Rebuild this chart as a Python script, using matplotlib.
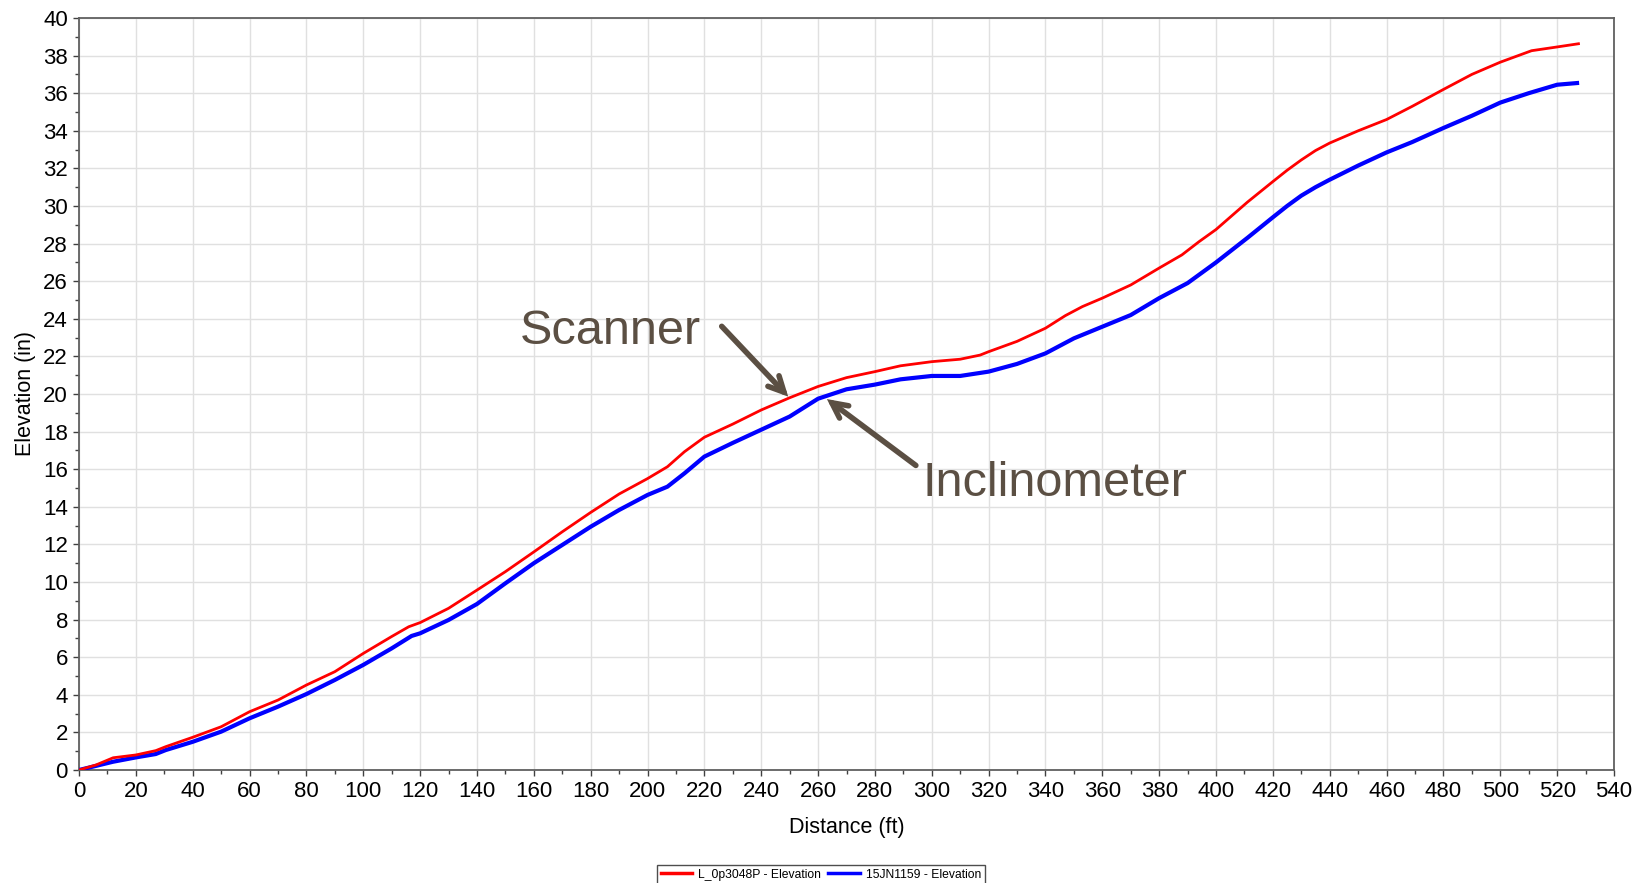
import matplotlib
matplotlib.use("Agg")
import matplotlib.pyplot as plt
from matplotlib.ticker import MultipleLocator

plt.rcParams['font.family'] = ['Liberation Sans', 'DejaVu Sans']

red_x = [0, 6, 12, 20, 27, 30.5, 40, 50, 60, 70, 80, 90, 100, 110, 116, 120, 130, 140,
         150, 160, 170, 180, 190, 200, 207, 213, 220, 230, 240, 250, 260, 270, 280, 289,
         300, 310, 317, 320, 330, 340, 347, 353, 360, 370, 380, 388, 394, 400, 411, 420,
         425, 430, 435, 440, 450, 460, 469, 480, 490, 500, 511, 520, 527.5]
red_y = [0, 0.27, 0.65, 0.8, 1.03, 1.24, 1.74, 2.3, 3.1, 3.72, 4.52, 5.23, 6.2, 7.1, 7.62,
         7.84, 8.6, 9.57, 10.55, 11.6, 12.67, 13.7, 14.68, 15.5, 16.13, 16.93, 17.7, 18.4,
         19.15, 19.8, 20.4, 20.87, 21.19, 21.5, 21.72, 21.85, 22.07, 22.25, 22.8, 23.5,
         24.17, 24.65, 25.1, 25.8, 26.7, 27.4, 28.1, 28.75, 30.2, 31.3, 31.9, 32.45,
         32.95, 33.35, 34.0, 34.6, 35.3, 36.2, 37.0, 37.65, 38.26, 38.46, 38.63]

blue_x = [0, 12, 20, 27, 30.5, 40, 50, 60, 70, 80, 90, 100, 110, 117, 120, 130, 140, 150,
          160, 170, 180, 190, 200, 207, 213, 220, 230, 240, 250, 260, 270, 280, 289, 300,
          310, 320, 330, 340, 350, 360, 370, 380, 390, 400, 411, 420, 425, 430, 435, 440,
          450, 460, 469, 480, 490, 500, 510, 520, 527]
blue_y = [0, 0.44, 0.67, 0.85, 1.06, 1.5, 2.04, 2.75, 3.37, 4.04, 4.79, 5.59, 6.47, 7.13,
          7.27, 7.98, 8.83, 9.93, 11.0, 11.97, 12.94, 13.83, 14.63, 15.07, 15.78, 16.67,
          17.4, 18.1, 18.8, 19.75, 20.25, 20.5, 20.78, 20.96, 20.96, 21.19, 21.6, 22.16,
          22.96, 23.58, 24.2, 25.1, 25.9, 27.0, 28.3, 29.4, 30.0, 30.55, 31.0, 31.4, 32.15,
          32.85, 33.4, 34.15, 34.8, 35.5, 36.0, 36.45, 36.54]

red_label = "L_0p3048P - Elevation"
blue_label = "15JN1159 - Elevation"
x_label = "Distance (ft)"
y_label = "Elevation (in)"
ann_scanner = "Scanner"
ann_incl = "Inclinometer"

fig = plt.figure(figsize=(16.47, 8.83), dpi=100)
ax = fig.add_axes([0.04797, 0.12797, 0.93199, 0.85165])

ax.plot(red_x, red_y, color='#ff0000', lw=2.0, label=red_label, zorder=4)
ax.plot(blue_x, blue_y, color='#0000ff', lw=3.0, label=blue_label, zorder=3)

ax.set_xlim(0, 540)
ax.set_ylim(0, 40)
ax.xaxis.set_major_locator(MultipleLocator(20))
ax.xaxis.set_minor_locator(MultipleLocator(10))
ax.yaxis.set_major_locator(MultipleLocator(2))
ax.yaxis.set_minor_locator(MultipleLocator(1))
ax.grid(True, which='major', color='#e0e0e0', lw=1.0, zorder=0)
ax.set_axisbelow(True)

for s in ax.spines.values():
    s.set_color('#606060')
    s.set_linewidth(1.3)

ax.tick_params(axis='both', which='major', direction='out', length=4, width=1,
               color='#404040', labelsize=16, labelcolor='black', pad=4)
ax.tick_params(axis='both', which='minor', direction='out', length=3, width=1,
               color='#404040')

ax.set_xlabel(x_label, fontsize=15.5, labelpad=11)
ax.set_ylabel(y_label, fontsize=15.5, labelpad=5)

ann_color = '#5b4f43'
arrow_kw = dict(arrowstyle='->,head_length=1.1,head_width=0.55', color=ann_color,
                lw=4, shrinkA=0, shrinkB=0, capstyle='round', joinstyle='miter')
ax.annotate('', xy=(249.5, 19.86), xytext=(226.1, 23.6), arrowprops=arrow_kw)
ax.annotate('', xy=(263.1, 19.73), xytext=(294.4, 16.2), arrowprops=arrow_kw)
ax.text(155.1, 22.66, ann_scanner, fontsize=35, color=ann_color, ha='left',
        va='baseline')
ax.text(296.6, 14.57, ann_incl, fontsize=35, color=ann_color, ha='left',
        va='baseline')

leg = fig.legend(loc='upper center', bbox_to_anchor=(0.4984, 0.0204), ncol=2,
                 fontsize=8.7, frameon=True, fancybox=False, handlelength=2.6,
                 columnspacing=0.6, handletextpad=0.5, borderpad=0.3,
                 edgecolor='#202020', borderaxespad=0)
leg.get_frame().set_linewidth(1.0)
for ln in leg.get_lines():
    ln.set_linewidth(2.5)

fig.savefig('out.png', dpi=100)
